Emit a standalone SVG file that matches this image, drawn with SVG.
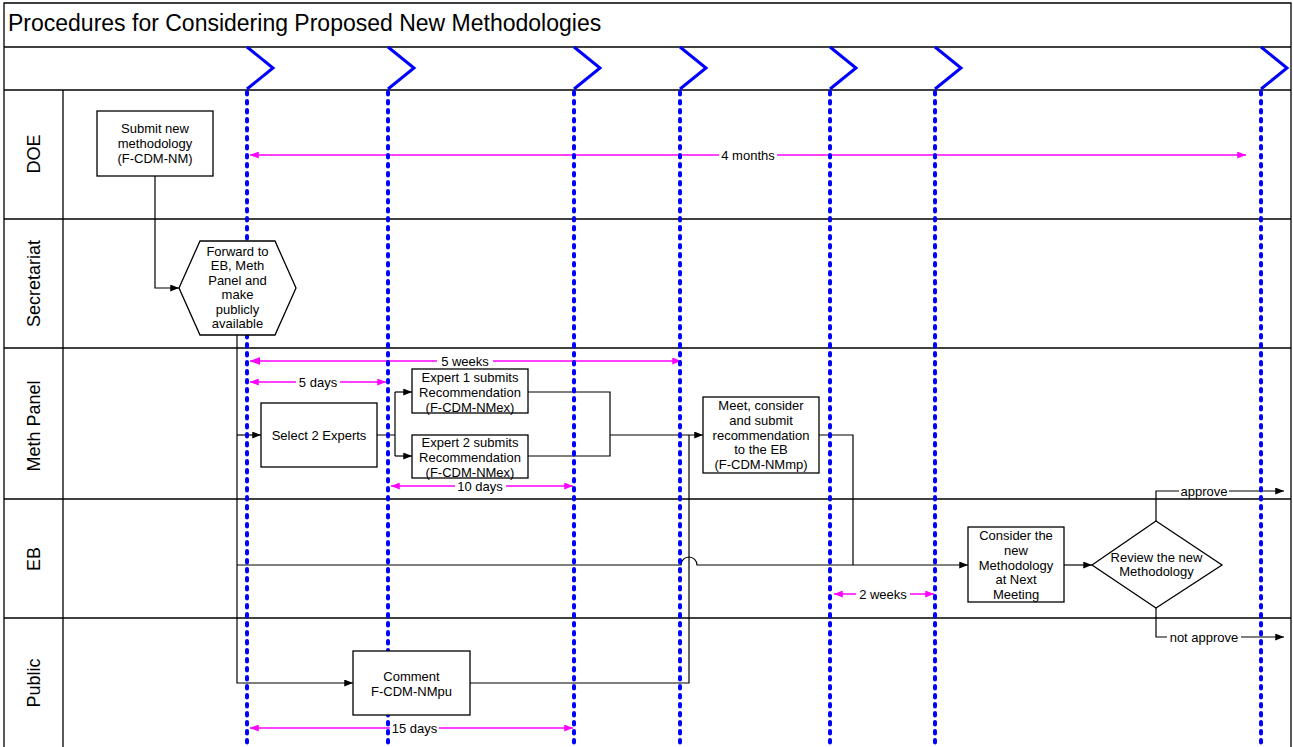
<svg xmlns="http://www.w3.org/2000/svg" width="1293" height="747" viewBox="0 0 1293 747">
<defs>
<style>
text{font-family:"Liberation Sans",Arial,sans-serif;fill:#000}
.t{font-size:13px;text-anchor:middle}
.lane{stroke:#000;stroke-width:1.3;fill:none}
.c{stroke:#000;stroke-width:1.2;fill:none}
.ca{stroke:#000;stroke-width:1.2;fill:none;marker-end:url(#ab)}
.dim{stroke:#ff00ff;stroke-width:1.5;fill:none;marker-start:url(#am);marker-end:url(#am)}
.dim1{stroke:#ff00ff;stroke-width:1.5;fill:none;marker-end:url(#am)}
.dot{stroke:#0000ff;stroke-width:4;stroke-dasharray:2.5 6.5;stroke-linecap:round;fill:none}
.chev{stroke:#0000ff;stroke-width:3;fill:none}
.box{fill:#fff;stroke:#000;stroke-width:1.3}
.lbl{font-size:18px;text-anchor:middle}
.bg{fill:#fff}
</style>
<marker id="ab" viewBox="0 0 10 8" refX="10" refY="4" markerWidth="9" markerHeight="7" orient="auto" markerUnits="userSpaceOnUse"><path d="M0,0 L10,4 L0,8 z" fill="#000"/></marker>
<marker id="am" viewBox="0 0 10 8" refX="10" refY="4" markerWidth="9" markerHeight="7" orient="auto-start-reverse" markerUnits="userSpaceOnUse"><path d="M0,0 L10,4 L0,8 z" fill="#ff00ff"/></marker>
</defs>
<rect width="1293" height="747" fill="#fff"/>

<g id="frame">
<path class="lane" d="M4,748 V3 H1291 V748"/>
<line class="lane" x1="4" y1="47" x2="1291" y2="47" stroke-width="1.6"/>
<line class="lane" x1="4" y1="90" x2="1291" y2="90" stroke-width="1.6"/>
<line class="lane" x1="63" y1="90" x2="63" y2="748"/>
<line class="lane" x1="4" y1="219" x2="1291" y2="219"/>
<line class="lane" x1="4" y1="348" x2="1291" y2="348"/>
<line class="lane" x1="4" y1="499" x2="1291" y2="499"/>
<line class="lane" x1="4" y1="618" x2="1291" y2="618"/>
<text x="8" y="31" font-size="23">Procedures for Considering Proposed New Methodologies</text>
<text class="lbl" transform="translate(40,154) rotate(-90)">DOE</text>
<text class="lbl" transform="translate(40,283.5) rotate(-90)">Secretariat</text>
<text class="lbl" transform="translate(40,426) rotate(-90)">Meth Panel</text>
<text class="lbl" transform="translate(40,559) rotate(-90)">EB</text>
<text class="lbl" transform="translate(40,683) rotate(-90)">Public</text>
</g>

<g id="connectors">
<path class="ca" d="M155,176 V288 H179"/>
<path class="ca" d="M237,335 V683 H353"/>
<path class="ca" d="M237,435 H261"/>
<path class="ca" d="M237,565 H681 A8,8 0 0 1 697,565 H968"/>
<path class="c" d="M377,435 H395 M395,392 V456"/>
<path class="ca" d="M395,392 H412"/>
<path class="ca" d="M395,456 H412"/>
<path class="c" d="M528,392 H610 V456 H528"/>
<path class="ca" d="M610,435 H703"/>
<path class="c" d="M470,683 H689 V435"/>
<path class="c" d="M819,435 H853 V565"/>
<path class="ca" d="M1064,565 H1092"/>
<path class="ca" d="M1156,521 V491 H1284"/>
<path class="ca" d="M1156,608 V637 H1284"/>
<rect class="bg" x="1179" y="484" width="50" height="14"/>
<text class="t" x="1204" y="495.5">approve</text>
<rect class="bg" x="1167" y="630" width="74" height="14"/>
<text class="t" x="1204" y="641.5">not approve</text>
</g>

<g id="durations">
<line class="dim" x1="250" y1="155" x2="1246" y2="155"/>
<rect class="bg" x="719" y="148" width="58" height="14"/>
<text class="t" x="748" y="159.5">4 months</text>
<line class="dim1" x1="250" y1="361" x2="681" y2="361"/>
<path d="M250,361 l10,-4 v8 z" fill="#ff00ff"/>
<rect class="bg" x="437" y="354" width="56" height="14"/>
<text class="t" x="465" y="365.5">5 weeks</text>
<line class="dim" x1="250" y1="382" x2="386" y2="382"/>
<rect class="bg" x="296" y="375" width="44" height="14"/>
<text class="t" x="318" y="386.5">5 days</text>
<line class="dim" x1="391" y1="486" x2="573" y2="486"/>
<rect class="bg" x="455" y="479" width="51" height="14"/>
<text class="t" x="480" y="490.5">10 days</text>
<line class="dim" x1="834" y1="594" x2="934" y2="594"/>
<rect class="bg" x="856" y="587" width="54" height="14"/>
<text class="t" x="883" y="598.5">2 weeks</text>
<line class="dim" x1="250" y1="728" x2="573" y2="728"/>
<rect class="bg" x="390" y="721" width="49" height="14"/>
<text class="t" x="414.5" y="732.5">15 days</text>
</g>

<g id="milestones">
<line class="dot" x1="247" y1="92" x2="247" y2="747"/>
<line class="dot" x1="388" y1="92" x2="388" y2="747"/>
<line class="dot" x1="574" y1="92" x2="574" y2="747"/>
<line class="dot" x1="680" y1="92" x2="680" y2="747"/>
<line class="dot" x1="830" y1="92" x2="830" y2="747"/>
<line class="dot" x1="935" y1="92" x2="935" y2="747"/>
<line class="dot" x1="1261" y1="92" x2="1261" y2="747"/>
<polyline class="chev" points="247,47 273,68 247,89"/>
<polyline class="chev" points="388,47 414,68 388,89"/>
<polyline class="chev" points="574,47 600,68 574,89"/>
<polyline class="chev" points="680,47 706,68 680,89"/>
<polyline class="chev" points="830,47 856,68 830,89"/>
<polyline class="chev" points="935,47 961,68 935,89"/>
<polyline class="chev" points="1261,47 1287,68 1261,89"/>
</g>

<g id="submit">
<rect class="box" x="97" y="111" width="116" height="65"/>
<text class="t" x="155" y="132.5">Submit new</text>
<text class="t" x="155" y="147.5">methodology</text>
<text class="t" x="155" y="162.5">(F-CDM-NM)</text>
</g>

<g id="forward">
<polygon class="box" points="179,288 200,241 275,241 296,288 275,335 200,335"/>
<text class="t" x="237.5" y="255.5">Forward to</text>
<text class="t" x="237.5" y="270">EB, Meth</text>
<text class="t" x="237.5" y="284.5">Panel and</text>
<text class="t" x="237.5" y="299">make</text>
<text class="t" x="237.5" y="313.5">publicly</text>
<text class="t" x="237.5" y="328">available</text>
</g>

<g id="select">
<rect class="box" x="261" y="403" width="116" height="64"/>
<text class="t" x="319" y="439.5">Select 2 Experts</text>
</g>

<g id="expert1">
<rect class="box" x="412" y="369" width="116" height="44"/>
<text class="t" x="470" y="381.5">Expert 1 submits</text>
<text class="t" x="470" y="396.5">Recommendation</text>
<text class="t" x="470" y="411.5">(F-CDM-NMex)</text>
</g>

<g id="expert2">
<rect class="box" x="412" y="435" width="116" height="43"/>
<text class="t" x="470" y="446.5">Expert 2 submits</text>
<text class="t" x="470" y="461.5">Recommendation</text>
<text class="t" x="470" y="476.5">(F-CDM-NMex)</text>
</g>

<g id="meet">
<rect class="box" x="703" y="397" width="116" height="76"/>
<text class="t" x="761" y="409.5">Meet, consider</text>
<text class="t" x="761" y="424.5">and submit</text>
<text class="t" x="761" y="439.5">recommendation</text>
<text class="t" x="761" y="453.5">to the EB</text>
<text class="t" x="761" y="468.5">(F-CDM-NMmp)</text>
</g>

<g id="comment">
<rect class="box" x="353" y="651" width="117" height="64"/>
<text class="t" x="411.5" y="680.5">Comment</text>
<text class="t" x="411.5" y="695.5">F-CDM-NMpu</text>
</g>

<g id="consider">
<rect class="box" x="968" y="527" width="96" height="75"/>
<text class="t" x="1016" y="539.5">Consider the</text>
<text class="t" x="1016" y="554.5">new</text>
<text class="t" x="1016" y="569.5">Methodology</text>
<text class="t" x="1016" y="583.5">at Next</text>
<text class="t" x="1016" y="598.5">Meeting</text>
</g>

<g id="review">
<polygon class="box" points="1092,565 1156,521 1222,565 1156,608"/>
<text class="t" x="1156.5" y="561.5">Review the new</text>
<text class="t" x="1156.5" y="575.5">Methodology</text>
</g>
</svg>
